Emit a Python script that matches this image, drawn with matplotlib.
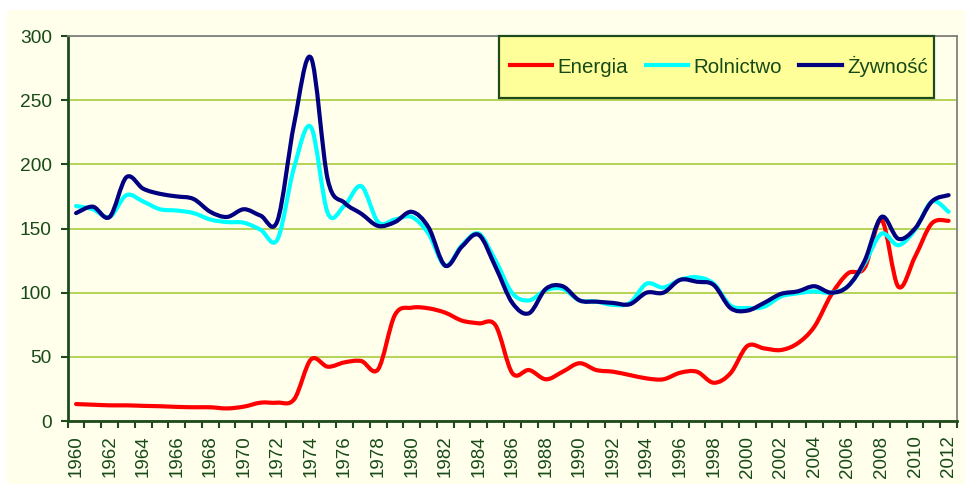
import matplotlib
matplotlib.use('Agg')
import matplotlib.pyplot as plt
from matplotlib.path import Path
from matplotlib.patches import PathPatch, Rectangle
from matplotlib.lines import Line2D
import numpy as np

years = list(range(1960, 2013))
energia = [13.2, 12.7, 12.2, 12.2, 11.8, 11.5, 11.0, 10.7, 10.7, 9.8, 11.2, 14.3, 14.3, 17.0,
           48.0, 42.3, 45.7, 46.7, 40.3, 82.6, 88.3, 87.8, 84.4, 78.2, 76.1, 74.5, 37.2, 39.7,
           32.5, 38.4, 45.0, 39.7, 38.4, 35.8, 33.2, 32.5, 37.6, 38.4, 29.8, 37.2, 58.4, 56.6,
           55.3, 60.5, 73.5, 98.2, 115.0, 119.5, 156.6, 104.7, 128.0, 154.0, 156.0]
rolnictwo = [167.5, 165.0, 159.0, 176.0, 171.0, 165.0, 164.0, 162.0, 157.0, 155.0, 154.5, 149.0,
             141.5, 198.0, 229.0, 162.0, 168.0, 183.0, 155.0, 157.0, 159.0, 146.0, 121.0, 137.0,
             146.0, 125.0, 99.5, 94.0, 102.0, 103.0, 94.0, 93.0, 90.5, 92.0, 107.0, 104.0, 110.0,
             112.0, 107.0, 90.0, 88.0, 89.0, 97.0, 99.5, 101.0, 100.0, 105.0, 123.0, 146.0, 137.0,
             149.0, 171.0, 163.0]
zywnosc = [162.0, 167.0, 159.0, 190.0, 181.0, 177.0, 175.0, 173.0, 163.0, 159.0, 165.0, 160.0,
           156.0, 232.0, 283.0, 188.0, 170.0, 161.5, 152.0, 155.0, 163.0, 151.0, 121.0, 136.0,
           145.0, 120.0, 92.0, 84.0, 103.0, 105.0, 94.0, 93.0, 92.0, 91.0, 100.0, 100.0, 110.0,
           108.5, 106.0, 88.0, 86.0, 92.0, 99.0, 101.0, 105.0, 100.0, 105.0, 125.0, 159.0, 142.0,
           150.0, 171.0, 176.0]
series_names = ['Energia', 'Rolnictwo', 'Żywność']
series_colors = ['#FF0000', '#00FFFF', '#000080']
y_ticks = [0, 50, 100, 150, 200, 250, 300]
x_labels = [str(y) for y in years[::2]]

TXT = '#174A17'
AXC = '#1E4A1E'
GRID = '#A8CC3C'
BG = '#FFFFEB'

plt.rcParams['font.family'] = ['Liberation Sans', 'DejaVu Sans']

fig = plt.figure(figsize=(9.65, 4.84), dpi=100)
fig.patch.set_facecolor('white')
fig.patches.append(Rectangle((7/965, 0), 1 - 7/965, 1 - 10/484, transform=fig.transFigure,
                             facecolor=BG, edgecolor='none', zorder=-10))

ax = fig.add_axes([67.7/965, 1 - 421/484, (957 - 67.7)/965, (421 - 36)/484])
ax.set_facecolor(BG)


def smooth_path(xs, ys):
    pts = np.column_stack([xs, ys]).astype(float)
    n = len(pts)
    verts = [pts[0]]
    codes = [Path.MOVETO]
    for i in range(n - 1):
        p0 = pts[i - 1] if i > 0 else pts[i]
        p1 = pts[i]
        p2 = pts[i + 1]
        p3 = pts[i + 2] if i + 2 < n else pts[i + 1]
        c1 = p1 + (p2 - p0) / 6.0
        c2 = p2 - (p3 - p1) / 6.0
        verts += [c1, c2, p2]
        codes += [Path.CURVE4] * 3
    return Path(verts, codes)


xs = np.arange(len(years))
for vals, col in zip([energia, rolnictwo, zywnosc], series_colors):
    patch = PathPatch(smooth_path(xs, vals), fill=False, edgecolor=col, lw=3.0,
                      capstyle='round', joinstyle='round', zorder=3)
    ax.add_patch(patch)

ax.set_xlim(-0.5, len(years) - 0.5)
ax.set_ylim(0, 300)

ax.set_yticks(y_ticks)
ax.set_yticklabels([str(v) for v in y_ticks])
ax.yaxis.grid(True, color=GRID, lw=1.2, zorder=1)
ax.set_axisbelow(True)

ax.set_xticks(np.arange(-0.5, len(years), 1.0))
ax.set_xticklabels([])
ax.set_xticks(xs[::2], minor=True)
ax.set_xticklabels(x_labels, minor=True, rotation=90)

ax.tick_params(axis='y', direction='out', length=5, width=1.5, color=AXC, labelcolor=TXT,
               labelsize=13.8, pad=6.5)
ax.tick_params(axis='x', which='major', direction='out', length=5, width=1.5, color=AXC)
ax.tick_params(axis='x', which='minor', length=0, labelcolor=TXT, labelsize=13.5, pad=10.5)

for s in ['left', 'bottom']:
    ax.spines[s].set_color(AXC)
    ax.spines[s].set_linewidth(2.0)
for s in ['top', 'right']:
    ax.spines[s].set_color('#808080')
    ax.spines[s].set_linewidth(1.3)

# legend box
fig.patches.append(Rectangle((499/965, 1 - 98/484), 435/965, 62/484, transform=fig.transFigure,
                             facecolor='#FFFF99', edgecolor=AXC, lw=1.6, zorder=5))
handles = [Line2D([], [], color=c, lw=3.0) for c in series_colors]
leg = fig.legend(handles, series_names, loc='center', bbox_to_anchor=(719/965, 1 - 66/484),
                 ncol=3, frameon=False, fontsize=14.8, handlelength=2.05, handletextpad=0.3,
                 columnspacing=0.83, borderpad=0, borderaxespad=0)
leg.set_zorder(6)
for t in leg.get_texts():
    t.set_color(TXT)

fig.savefig('out.png', dpi=100, facecolor=fig.get_facecolor())
